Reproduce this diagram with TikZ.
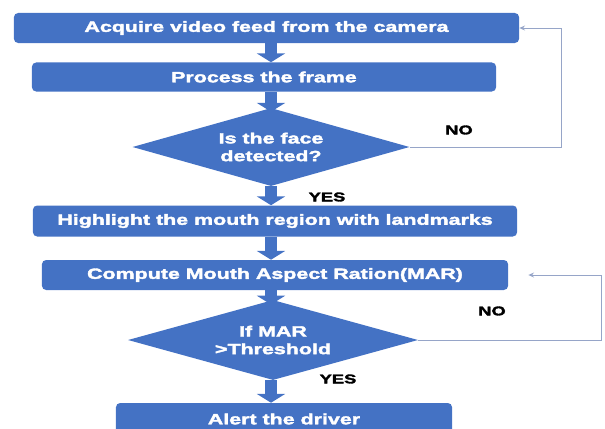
\documentclass[tikz,border=0pt]{standalone}
\usepackage{fontspec}
\setmainfont{Liberation Sans}[FakeStretch=1.45, BoldFeatures={FakeBold=2.5}]
\usetikzlibrary{shapes.geometric,arrows.meta}
\definecolor{boxblue}{HTML}{4472C4}
\definecolor{loopgrey}{RGB}{150,165,200}

\begin{document}
\begin{tikzpicture}[x=0.025cm, y=-0.025cm,
    blocco/.style={fill=boxblue, rounded corners=3pt, text=white, inner sep=0pt,
      font=\bfseries\fontsize{10.5}{12.6}\selectfont},
    rombo/.style={diamond, fill=boxblue, text=white, inner sep=0pt, shape aspect=3.5,
      align=center, font=\bfseries\fontsize{10.5}{12.6}\selectfont},
    freccia/.style={draw=boxblue, line width=0.3cm, -{Triangle[width=0.7cm, length=0.22cm]}},
    ritorno/.style={draw=loopgrey, line width=0.7pt, -{Stealth[length=4pt, width=3.5pt]}},
    etichetta/.style={font=\bfseries\fontsize{9}{11}\selectfont}]
    \clip (0,0) rectangle (605,428);

    % Nodi
    \node[blocco, minimum width=12.625cm, minimum height=0.75cm] (A) at (266.5,28) {Acquire video feed from the camera};
    \node[blocco, minimum width=11.6cm, minimum height=0.725cm] (B) at (264,77) {Process the frame};
    \node[rombo, minimum width=6.925cm, minimum height=1.95cm] (C) at (271,147) {Is the face\\detected?};
    \node[blocco, minimum width=12.1cm, minimum height=0.775cm] (D) at (275,221) {Highlight the mouth region with landmarks};
    \node[blocco, minimum width=11.65cm, minimum height=0.75cm] (E) at (275,275) {Compute Mouth Aspect Ration(MAR)};
    \node[rombo, minimum width=7.25cm, minimum height=2cm] (F) at (273,340) {If MAR\\>Threshold};
    \node[blocco, minimum width=8.4cm, minimum height=0.8cm] (G) at (284,419) {Alert the driver};

    % Etichette
    \node[etichetta] (no1) at (459,130) {NO};
    \node[etichetta] (si1) at (327,197) {YES};
    \node[etichetta] (no2) at (492,311) {NO};
    \node[etichetta] (si2) at (338,379) {YES};

    % Archi
    \draw[freccia] (A.south -| C) -- (B.north -| C);
    \draw[freccia, shorten >=-0.1cm] (B.south -| C) -- (C.north);
    \draw[freccia] (C.south) -- (D.north -| C);
    \draw[freccia] (D.south -| C) -- (E.north -| C);
    \draw[freccia, shorten >=-0.12cm] (E.south -| C) -- (F.north -| C);
    \draw[freccia] (F.south -| C) -- (G.north -| C);
    \draw[ritorno] (C.east) -- ++(152,0) |- (A.east);
    \draw[ritorno, shorten >=0.5cm] (F.east) -- ++(183,0) |- (E.east);
  \end{tikzpicture}
\end{document}
